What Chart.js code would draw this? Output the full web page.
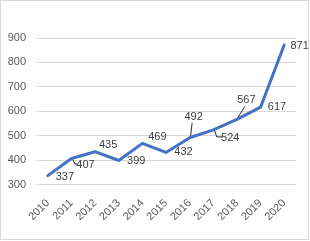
<!DOCTYPE html>
<html>
<head>
<meta charset="utf-8">
<script src="https://cdn.jsdelivr.net/npm/chart.js@4"></script>
<style>
  html, body { margin: 0; padding: 0; background: #fff; }
  #wrap { width: 310px; height: 241px; }
</style>
</head>
<body>
<div id="wrap"><canvas id="chart" width="310" height="241"></canvas></div>
<script>
const years = ['2010', '2011', '2012', '2013', '2014', '2015', '2016', '2017', '2018', '2019', '2020'];
const values = [337, 407, 435, 399, 469, 432, 492, 524, 567, 617, 871];
const yTicks = [300, 400, 500, 600, 700, 800, 900];

// where each value label sits relative to its point, and whether it gets a leader line
const labelOffsets = [
    [17, 1], [14, 6.5], [13, -7], [17.5, 0], [15, -6.5], [17.5, 0],
    [4, -21], [17, 8], [9.5, -19], [16.5, 0], [15.5, 0.5]
];
const leaders = [false, true, false, false, false, false, true, true, true, false, false];

const FONT = 'Liberation Sans';

const valueLabels = {
    id: 'valueLabels',
    afterDatasetsDraw(chart) {
        const ctx = chart.ctx;
        const pts = chart.getDatasetMeta(0).data;
        ctx.save();
        ctx.font = '11px "' + FONT + '"';
        ctx.fillStyle = '#404040';
        ctx.textAlign = 'center';
        ctx.textBaseline = 'middle';
        pts.forEach((p, i) => {
            const [dx, dy] = labelOffsets[i];
            const lx = p.x + dx, ly = p.y + dy;
            if (leaders[i]) {
                ctx.strokeStyle = '#262626';
                ctx.lineWidth = 1;
                ctx.beginPath();
                if (dy > 10) {
                    // down then across to the label
                    ctx.moveTo(p.x + 1.5, p.y + 2);
                    ctx.lineTo(p.x + 1.5, ly - 1);
                    ctx.lineTo(lx - 10, ly - 1);
                } else if (dy < -10) {
                    ctx.moveTo(p.x + 1, p.y - 2);
                    ctx.lineTo(lx - 1.5, ly + 6);
                } else {
                    ctx.moveTo(p.x + 1.5, p.y + 1);
                    ctx.lineTo(p.x + 3.5, ly - 1);
                    ctx.lineTo(lx - 8, ly - 1);
                }
                ctx.stroke();
            }
            ctx.fillText(String(values[i]), lx, ly);
        });
        ctx.restore();
    }
};

const frame = {
    id: 'frame',
    afterDraw(chart) {
        const ctx = chart.ctx;
        ctx.save();
        ctx.strokeStyle = '#d9d9d9';
        ctx.lineWidth = 1;
        ctx.strokeRect(0.5, 0.5, 308, 239);
        ctx.restore();
    }
};

new Chart(document.getElementById('chart'), {
    type: 'line',
    data: {
        labels: years,
        datasets: [{
            data: values,
            borderColor: '#4472C4',
            borderWidth: 3,
            pointRadius: 0,
            tension: 0,
            borderJoinStyle: 'round',
            borderCapStyle: 'round'
        }]
    },
    options: {
        responsive: false,
        animation: false,
        layout: { padding: { top: 38, right: 14, left: 0, bottom: 0 } },
        plugins: {
            legend: { display: false },
            tooltip: { enabled: false }
        },
        scales: {
            x: {
                offset: true,
                grid: { display: false },
                border: { display: false },
                ticks: {
                    color: '#595959',
                    font: { family: FONT, size: 11 },
                    minRotation: 45,
                    maxRotation: 45,
                    padding: 4,
                    autoSkip: false
                },
                afterFit(scale) { scale.height = 56.3; }
            },
            y: {
                min: 300,
                max: 900,
                afterBuildTicks(scale) { scale.ticks = yTicks.map(v => ({ value: v })); },
                grid: { color: '#d9d9d9', drawTicks: false, lineWidth: 1 },
                border: { display: false },
                ticks: {
                    color: '#595959',
                    font: { family: FONT, size: 11 },
                    padding: 10
                },
                afterFit(scale) { scale.width = 36; }
            }
        }
    },
    plugins: [valueLabels, frame]
});
</script>
</body>
</html>
